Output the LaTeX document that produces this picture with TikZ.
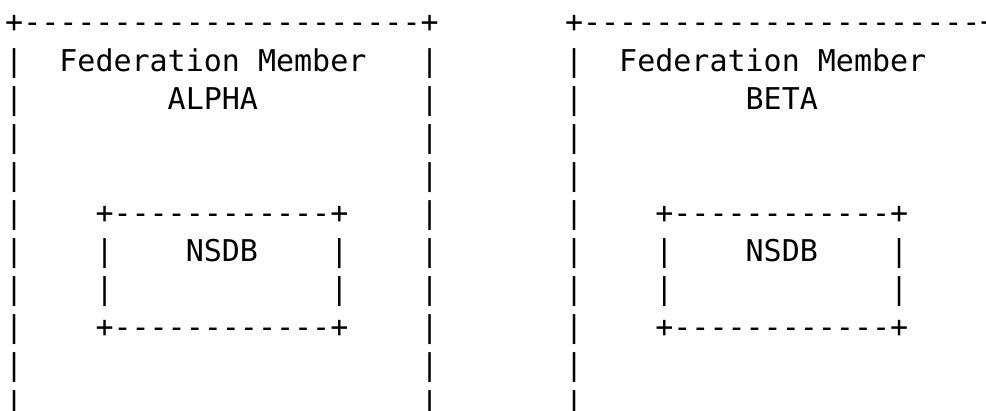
\documentclass[tikz,border=0pt]{standalone}
\usepackage{fontspec}
\setmonofont{DejaVu Sans Mono}
\tikzset{
  ascii/.style={font=\ttfamily\fontsize{30}{38}\selectfont, inner sep=0pt, anchor=base west},
}
\begin{document}
\begin{tikzpicture}[x=18.06pt, y=-38.1pt]
  % one unit = one character cell; row 0 baseline is the origin
  \useasboundingbox[fill=white] (-5pt,33pt) rectangle (981pt,-378pt);
  \clip (-5pt,33pt) rectangle (981pt,-378pt);
  \foreach \c/\who/\off in {0/ALPHA/9, 31/BETA/10} {
    % member frame
    \node[ascii] (top-\who) at (\c,0) {+----------------------+};
    \foreach \r in {1,...,10} {
      \node[ascii] (l-\who-\r) at (\c,\r) {|};
      \node[ascii] (r-\who-\r) at (\c+23,\r) {|};
    }
    \node[ascii] (fed-\who) at (\c+3,1) {Federation Member};
    \node[ascii] (name-\who) at (\c+\off,2) {\who};
    % NSDB box
    \node[ascii] (nsdbtop-\who) at (\c+5,5) {+------------+};
    \node[ascii] (nsdbbot-\who) at (\c+5,8) {+------------+};
    \foreach \r in {6,7} {
      \node[ascii] (nl-\who-\r) at (\c+5,\r) {|};
      \node[ascii] (nr-\who-\r) at (\c+18,\r) {|};
    }
    \node[ascii] (nsdb-\who) at (\c+10,6) {NSDB};
  }
\end{tikzpicture}
\end{document}
